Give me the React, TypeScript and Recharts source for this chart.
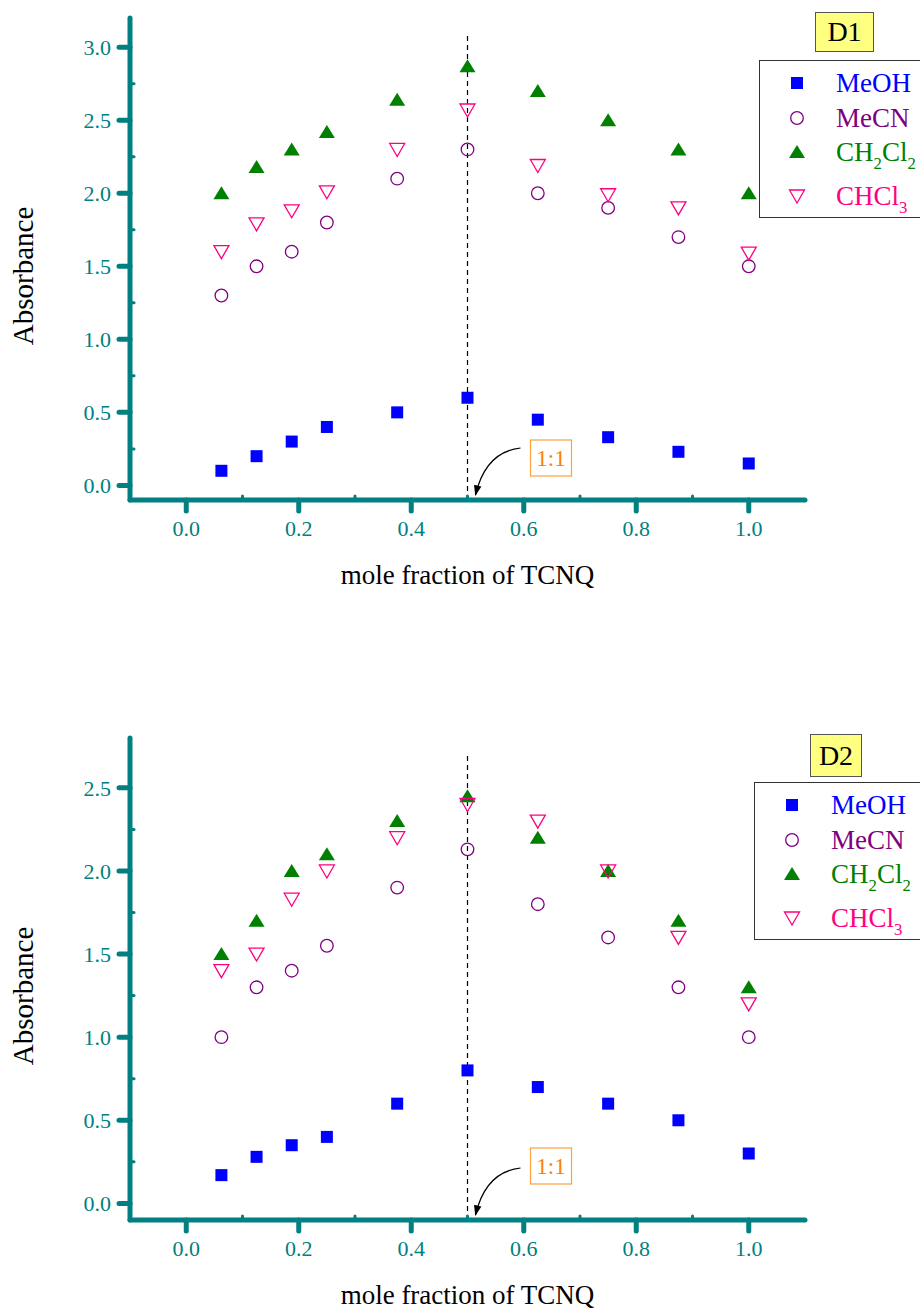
import React from "react";
import {
  ScatterChart,
  Scatter,
  XAxis,
  YAxis,
  ReferenceLine,
  ReferenceDot,
  Legend,
} from "recharts";

const TEAL = "#008080";
const FONT = "'Liberation Serif', 'Times New Roman', serif";

// mole fraction of TCNQ
const fractions = [0.0625, 0.125, 0.1875, 0.25, 0.375, 0.5, 0.625, 0.75, 0.875, 1.0];

// D1 absorbances
const d1MeOH = [0.1, 0.2, 0.3, 0.4, 0.5, 0.6, 0.45, 0.33, 0.23, 0.15];
const d1MeCN = [1.3, 1.5, 1.6, 1.8, 2.1, 2.3, 2.0, 1.9, 1.7, 1.5];
const d1CH2Cl2 = [2.0, 2.18, 2.3, 2.42, 2.64, 2.87, 2.7, 2.5, 2.3, 2.0];
const d1CHCl3 = [1.6, 1.79, 1.88, 2.01, 2.3, 2.57, 2.19, 1.99, 1.9, 1.59];

// D2 absorbances
const d2MeOH = [0.17, 0.28, 0.35, 0.4, 0.6, 0.8, 0.7, 0.6, 0.5, 0.3];
const d2MeCN = [1.0, 1.3, 1.4, 1.55, 1.9, 2.13, 1.8, 1.6, 1.3, 1.0];
const d2CH2Cl2 = [1.5, 1.7, 2.0, 2.1, 2.3, 2.45, 2.2, 2.0, 1.7, 1.3];
const d2CHCl3 = [1.4, 1.5, 1.83, 2.0, 2.2, 2.4, 2.3, 2.0, 1.6, 1.2];

const xTicks = [0, 0.1, 0.2, 0.3, 0.4, 0.5, 0.6, 0.7, 0.8, 0.9, 1.0];
const d1YTicks = [0, 0.25, 0.5, 0.75, 1.0, 1.25, 1.5, 1.75, 2.0, 2.25, 2.5, 2.75, 3.0];
const d2YTicks = [0, 0.25, 0.5, 0.75, 1.0, 1.25, 1.5, 1.75, 2.0, 2.25, 2.5];

const toPoints = (ys: number[]) => fractions.map((x, i) => ({ x, y: ys[i] }));

const Square = ({ cx, cy }: any) => (
  <rect x={cx - 6} y={cy - 6} width={12} height={12} fill="#0000FF" />
);
const Ring = ({ cx, cy }: any) => (
  <circle cx={cx} cy={cy} r={6.3} fill="none" stroke="#800080" strokeWidth={1.3} />
);
const TriUp = ({ cx, cy }: any) => (
  <polygon points={`${cx},${cy - 7} ${cx + 8},${cy + 6} ${cx - 8},${cy + 6}`} fill="#008000" />
);
const TriDown = ({ cx, cy }: any) => (
  <polygon
    points={`${cx - 7.5},${cy - 6} ${cx + 7.5},${cy - 6} ${cx},${cy + 7}`}
    fill="none"
    stroke="#FF0080"
    strokeWidth={1.3}
  />
);

const YTick = ({ x, y, payload }: any) => {
  const v = payload.value;
  if (Math.abs(v * 2 - Math.round(v * 2)) > 1e-6) {
    return <line x1={x + 2} x2={x + 4} y1={y} y2={y} stroke={TEAL} strokeWidth={3} strokeLinecap="round" />;
  }
  return (
    <g>
      <line x1={x - 11} x2={x} y1={y} y2={y} stroke={TEAL} strokeWidth={5} strokeLinecap="round" />
      <text x={x - 19} y={y} dy="0.35em" textAnchor="end" fill={TEAL} fontSize={22} fontFamily={FONT}>
        {v.toFixed(1)}
      </text>
    </g>
  );
};

const XTick = ({ x, y, payload }: any) => {
  const v = payload.value;
  if (Math.round(v * 10) % 2 !== 0) {
    return <line x1={x} x2={x} y1={y - 2} y2={y - 4} stroke={TEAL} strokeWidth={3} strokeLinecap="round" />;
  }
  return (
    <g>
      <line x1={x} x2={x} y1={y} y2={y + 11} stroke={TEAL} strokeWidth={5} strokeLinecap="round" />
      <text x={x} y={y + 28} dy="0.35em" textAnchor="middle" fill={TEAL} fontSize={22} fontFamily={FONT}>
        {v.toFixed(1)}
      </text>
    </g>
  );
};

const XLabel = ({ viewBox }: any) => (
  <text
    x={viewBox.x + viewBox.width / 2}
    y={viewBox.y + 75}
    dy="0.35em"
    textAnchor="middle"
    fontSize={27}
    fontFamily={FONT}
    fill="#000"
  >
    mole fraction of TCNQ
  </text>
);

const YLabel = ({ viewBox }: any) => {
  const cx = viewBox.x + 23;
  const cy = viewBox.y + viewBox.height / 2 + 17;
  return (
    <text
      x={cx}
      y={cy}
      dy="0.35em"
      textAnchor="middle"
      transform={`rotate(-90 ${cx} ${cy})`}
      fontSize={29}
      fontFamily={FONT}
      fill="#000"
    >
      Absorbance
    </text>
  );
};

const makeRatioNote = (id: string, boxTop: number) => ({ cx, cy }: any) => (
  <g>
    <defs>
      <marker id={id} viewBox="0 0 10 10" refX="9" refY="5" markerWidth="9" markerHeight="9" orient="auto">
        <path d="M0,1.5 L10,5 L0,8.5 Z" fill="#000" />
      </marker>
    </defs>
    <path
      d={`M${cx + 53},${cy - 52} Q${cx + 18},${cy - 48} ${cx + 8},${cy - 5}`}
      fill="none"
      stroke="#000"
      strokeWidth={1.2}
      markerEnd={`url(#${id})`}
    />
    <rect x={cx + 63} y={cy + boxTop} width={41} height={36} fill="#fff" stroke="#FFA040" strokeWidth={1.2} />
    <text
      x={cx + 83.5}
      y={cy + boxTop + 18}
      dy="0.35em"
      textAnchor="middle"
      fontSize={23}
      fontFamily={FONT}
      fill="#FF8000"
    >
      1:1
    </text>
  </g>
);

const Sub = ({ children }: any) => (
  <span style={{ fontSize: "0.62em", position: "relative", top: "0.45em" }}>{children}</span>
);

const legendRows = [
  { name: <>MeOH</>, color: "#0000FF", Marker: Square, top: 22 },
  { name: <>MeCN</>, color: "#800080", Marker: Ring, top: 57 },
  { name: <>CH<Sub>2</Sub>Cl<Sub>2</Sub></>, color: "#008000", Marker: TriUp, top: 91 },
  { name: <>CHCl<Sub>3</Sub></>, color: "#FF0080", Marker: TriDown, top: 135 },
];

const makeLegend = (tag: string, tagWidth: number, tagHeight: number) => () => (
  <div style={{ position: "relative", width: 170, height: 210, fontFamily: FONT }}>
    <div
      style={{
        position: "absolute",
        left: 56,
        top: 0,
        width: tagWidth,
        height: tagHeight,
        boxSizing: "border-box",
        background: "#FFFF80",
        border: "1px solid #555",
        fontSize: 28,
        lineHeight: `${tagHeight - 2}px`,
        textAlign: "center",
        color: "#000",
      }}
    >
      {tag}
    </div>
    <div
      style={{
        position: "absolute",
        left: 0,
        top: 48,
        width: 200,
        height: 158,
        boxSizing: "border-box",
        border: "1.5px solid #333",
        borderRight: "none",
        background: "#fff",
      }}
    >
      {legendRows.map((r, i) => (
        <React.Fragment key={i}>
          <svg style={{ position: "absolute", left: 37 - 10, top: r.top - 10 }} width={20} height={20}>
            <r.Marker cx={10} cy={10} />
          </svg>
          <div
            style={{
              position: "absolute",
              left: 76,
              top: r.top - 16,
              fontSize: 27,
              lineHeight: "32px",
              color: r.color,
              whiteSpace: "nowrap",
            }}
          >
            {r.name}
          </div>
        </React.Fragment>
      ))}
    </div>
  </div>
);

interface PanelProps {
  tag: string;
  top: number;
  height: number;
  marginTop: number;
  yMax: number;
  yTicks: number[];
  dashTop: number;
  noteTop: number;
  tagWidth: number;
  tagHeight: number;
  legendLeft: number;
  legendTop: number;
  series: number[][];
}

const Panel = (p: PanelProps) => (
  <div style={{ position: "absolute", left: 0, top: p.top }}>
    <ScatterChart
      width={920}
      height={p.height}
      margin={{ top: p.marginTop, right: 115, bottom: p.height - p.marginTop - 482 - 80, left: 0 }}
    >
      <XAxis
        type="number"
        dataKey="x"
        domain={[-0.1, 1.1]}
        ticks={xTicks}
        interval={0}
        height={80}
        tickSize={0}
        tickMargin={0}
        tickLine={false}
        tick={<XTick />}
        axisLine={{ stroke: TEAL, strokeWidth: 5, strokeLinecap: "round" }}
        label={<XLabel />}
        allowDataOverflow
      />
      <YAxis
        type="number"
        dataKey="y"
        domain={[-0.1, p.yMax]}
        ticks={p.yTicks}
        interval={0}
        width={130}
        tickSize={0}
        tickMargin={0}
        tickLine={false}
        tick={<YTick />}
        axisLine={{ stroke: TEAL, strokeWidth: 5, strokeLinecap: "round" }}
        label={<YLabel />}
        allowDataOverflow
      />
      <ReferenceLine
        segment={[
          { x: 0.5, y: -0.1 },
          { x: 0.5, y: p.dashTop },
        ]}
        stroke="#000"
        strokeWidth={1.2}
        strokeDasharray="5 4"
      />
      <Scatter name="MeOH" data={toPoints(p.series[0])} shape={Square} isAnimationActive={false} />
      <Scatter name="MeCN" data={toPoints(p.series[1])} shape={Ring} isAnimationActive={false} />
      <Scatter name="CH2Cl2" data={toPoints(p.series[2])} shape={TriUp} isAnimationActive={false} />
      <Scatter name="CHCl3" data={toPoints(p.series[3])} shape={TriDown} isAnimationActive={false} />
      <ReferenceDot
        x={0.5}
        y={-0.1}
        ifOverflow="visible"
        shape={makeRatioNote(`arrow-${p.tag}`, p.noteTop)}
      />
      <Legend
        layout="vertical"
        align="center"
        verticalAlign="middle"
        wrapperStyle={{ left: p.legendLeft, top: p.legendTop - 48, width: 170, height: 210 }}
        content={makeLegend(p.tag, p.tagWidth, p.tagHeight)}
      />
    </ScatterChart>
  </div>
);

export default function App() {
  return (
    <div style={{ position: "absolute", left: 0, top: 0, width: 920, height: 1311, background: "#fff" }}>
      <Panel
        tag="D1"
        top={0}
        height={655}
        marginTop={18}
        yMax={3.2}
        yTicks={d1YTicks}
        dashTop={3.1}
        noteTop={-60}
        tagWidth={59}
        tagHeight={40}
        legendLeft={759}
        legendTop={60}
        series={[d1MeOH, d1MeCN, d1CH2Cl2, d1CHCl3]}
      />
      <Panel
        tag="D2"
        top={655}
        height={656}
        marginTop={83}
        yMax={2.8}
        yTicks={d2YTicks}
        dashTop={2.7}
        noteTop={-72}
        tagWidth={52}
        tagHeight={43}
        legendLeft={754}
        legendTop={127}
        series={[d2MeOH, d2MeCN, d2CH2Cl2, d2CHCl3]}
      />
    </div>
  );
}
